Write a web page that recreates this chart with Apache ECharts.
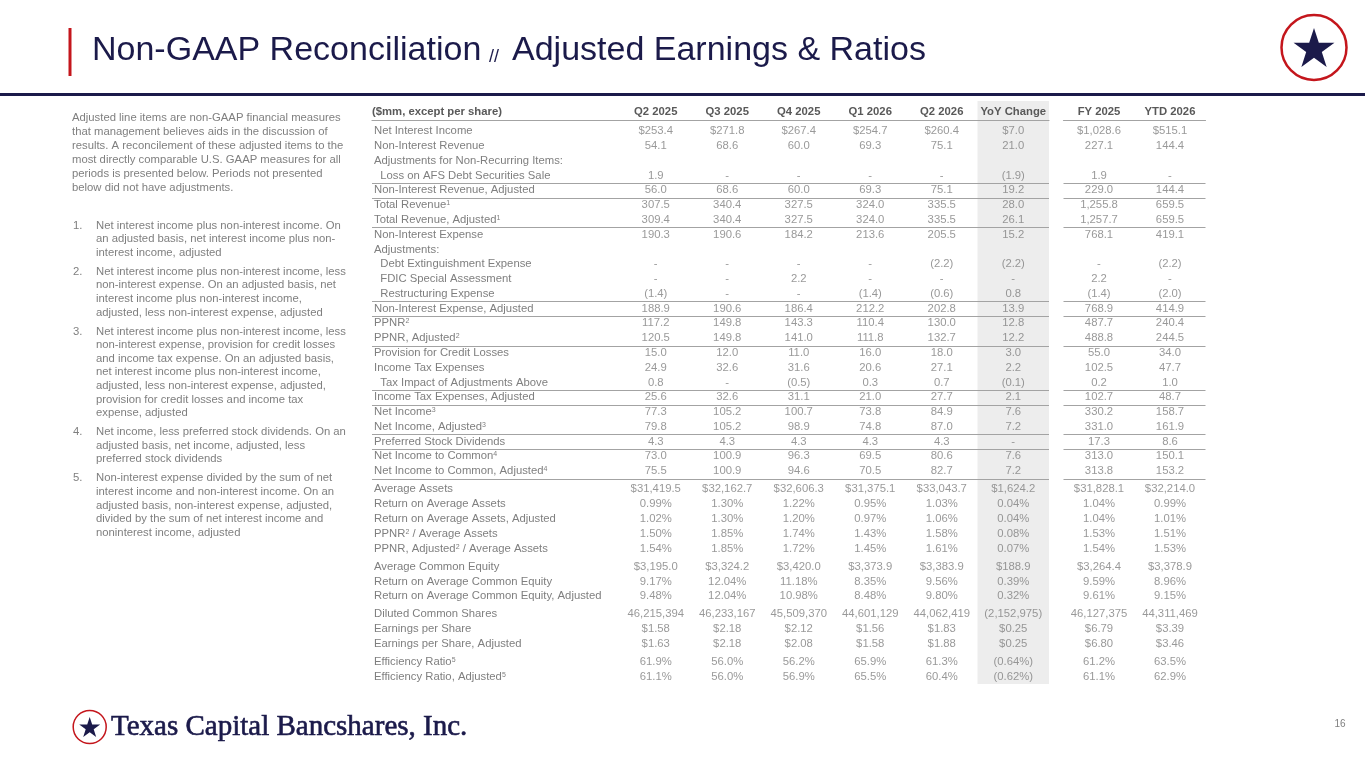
<!DOCTYPE html>
<html>
<head>
<meta charset="utf-8">
<title>Non-GAAP Reconciliation // Adjusted Earnings & Ratios</title>
<script src="https://cdn.jsdelivr.net/npm/echarts@6/dist/echarts.min.js"></script>
<style>
html,body{margin:0;padding:0;background:#fff;}
#main{width:1365px;height:768px;}
</style>
</head>
<body>
<div id="main"></div>
<script>
// column headers
var quarterCols = ['Q2 2025', 'Q3 2025', 'Q4 2025', 'Q1 2026', 'Q2 2026', 'YoY Change'];
var annualCols = ['FY 2025', 'YTD 2026'];

// row labels, ^n = footnote superscript, leading spaces = indent
var rowLabels = [
    'Net Interest Income', 'Non-Interest Revenue', 'Adjustments for Non-Recurring Items:',
    '  Loss on AFS Debt Securities Sale', 'Non-Interest Revenue, Adjusted', 'Total Revenue^1',
    'Total Revenue, Adjusted^1', 'Non-Interest Expense', 'Adjustments:',
    '  Debt Extinguishment Expense', '  FDIC Special Assessment', '  Restructuring Expense',
    'Non-Interest Expense, Adjusted', 'PPNR^2', 'PPNR, Adjusted^2', 'Provision for Credit Losses',
    'Income Tax Expenses', '  Tax Impact of Adjustments Above', 'Income Tax Expenses, Adjusted',
    'Net Income^3', 'Net Income, Adjusted^3', 'Preferred Stock Dividends',
    'Net Income to Common^4', 'Net Income to Common, Adjusted^4',
    'Average Assets', 'Return on Average Assets', 'Return on Average Assets, Adjusted',
    'PPNR^2 / Average Assets', 'PPNR, Adjusted^2 / Average Assets',
    'Average Common Equity', 'Return on Average Common Equity', 'Return on Average Common Equity, Adjusted',
    'Diluted Common Shares', 'Earnings per Share', 'Earnings per Share, Adjusted',
    'Efficiency Ratio^5', 'Efficiency Ratio, Adjusted^5'
];
var blockSizes = [24, 5, 3, 3, 2];

// rows with a rule under them
var ruleBelow = [
    '  Loss on AFS Debt Securities Sale', 'Non-Interest Revenue, Adjusted', 'Total Revenue, Adjusted^1',
    '  Restructuring Expense', 'Non-Interest Expense, Adjusted', 'PPNR, Adjusted^2',
    '  Tax Impact of Adjustments Above', 'Income Tax Expenses, Adjusted', 'Net Income, Adjusted^3',
    'Preferred Stock Dividends', 'Net Income to Common, Adjusted^4'
];

var q2_2025 = ['$253.4','54.1','','1.9','56.0','307.5','309.4','190.3','','-','-','(1.4)','188.9','117.2','120.5','15.0','24.9','0.8','25.6','77.3','79.8','4.3','73.0','75.5',
    '$31,419.5','0.99%','1.02%','1.50%','1.54%', '$3,195.0','9.17%','9.48%', '46,215,394','$1.58','$1.63', '61.9%','61.1%'];
var q3_2025 = ['$271.8','68.6','','-','68.6','340.4','340.4','190.6','','-','-','-','190.6','149.8','149.8','12.0','32.6','-','32.6','105.2','105.2','4.3','100.9','100.9',
    '$32,162.7','1.30%','1.30%','1.85%','1.85%', '$3,324.2','12.04%','12.04%', '46,233,167','$2.18','$2.18', '56.0%','56.0%'];
var q4_2025 = ['$267.4','60.0','','-','60.0','327.5','327.5','184.2','','-','2.2','-','186.4','143.3','141.0','11.0','31.6','(0.5)','31.1','100.7','98.9','4.3','96.3','94.6',
    '$32,606.3','1.22%','1.20%','1.74%','1.72%', '$3,420.0','11.18%','10.98%', '45,509,370','$2.12','$2.08', '56.2%','56.9%'];
var q1_2026 = ['$254.7','69.3','','-','69.3','324.0','324.0','213.6','','-','-','(1.4)','212.2','110.4','111.8','16.0','20.6','0.3','21.0','73.8','74.8','4.3','69.5','70.5',
    '$31,375.1','0.95%','0.97%','1.43%','1.45%', '$3,373.9','8.35%','8.48%', '44,601,129','$1.56','$1.58', '65.9%','65.5%'];
var q2_2026 = ['$260.4','75.1','','-','75.1','335.5','335.5','205.5','','(2.2)','-','(0.6)','202.8','130.0','132.7','18.0','27.1','0.7','27.7','84.9','87.0','4.3','80.6','82.7',
    '$33,043.7','1.03%','1.06%','1.58%','1.61%', '$3,383.9','9.56%','9.80%', '44,062,419','$1.83','$1.88', '61.3%','60.4%'];
var yoyChange = ['$7.0','21.0','','(1.9)','19.2','28.0','26.1','15.2','','(2.2)','-','0.8','13.9','12.8','12.2','3.0','2.2','(0.1)','2.1','7.6','7.2','-','7.6','7.2',
    '$1,624.2','0.04%','0.04%','0.08%','0.07%', '$188.9','0.39%','0.32%', '(2,152,975)','$0.25','$0.25', '(0.64%)','(0.62%)'];
var fy2025 = ['$1,028.6','227.1','','1.9','229.0','1,255.8','1,257.7','768.1','','-','2.2','(1.4)','768.9','487.7','488.8','55.0','102.5','0.2','102.7','330.2','331.0','17.3','313.0','313.8',
    '$31,828.1','1.04%','1.04%','1.53%','1.54%', '$3,264.4','9.59%','9.61%', '46,127,375','$6.79','$6.80', '61.2%','61.1%'];
var ytd2026 = ['$515.1','144.4','','-','144.4','659.5','659.5','419.1','','(2.2)','-','(2.0)','414.9','240.4','244.5','34.0','47.7','1.0','48.7','158.7','161.9','8.6','150.1','153.2',
    '$32,214.0','0.99%','1.01%','1.51%','1.53%', '$3,378.9','8.96%','9.15%', '44,311,469','$3.39','$3.46', '63.5%','62.9%'];

var introLines = [
    'Adjusted line items are non-GAAP financial measures',
    'that management believes aids in the discussion of',
    'results. A reconcilement of these adjusted items to the',
    'most directly comparable U.S. GAAP measures for all',
    'periods is presented below. Periods not presented',
    'below did not have adjustments.'
];
var footnotes = [
    ['Net interest income plus non-interest income. On', 'an adjusted basis, net interest income plus non-', 'interest income, adjusted'],
    ['Net interest income plus non-interest income, less', 'non-interest expense. On an adjusted basis, net', 'interest income plus non-interest income,', 'adjusted, less non-interest expense, adjusted'],
    ['Net interest income plus non-interest income, less', 'non-interest expense, provision for credit losses', 'and income tax expense. On an adjusted basis,', 'net interest income plus non-interest income,',
     'adjusted, less non-interest expense, adjusted,', 'provision for credit losses and income tax', 'expense, adjusted'],
    ['Net income, less preferred stock dividends. On an', 'adjusted basis, net income, adjusted, less', 'preferred stock dividends'],
    ['Non-interest expense divided by the sum of net', 'interest income and non-interest income. On an', 'adjusted basis, non-interest expense, adjusted,', 'divided by the sum of net interest income and', 'noninterest income, adjusted']
];

// look
var FONT = 'Liberation Sans';
var FS = 11.3;
var NAVY = '#1b1a4a';
var RED = '#c4161c';
var GREY = '#7f7f7f';
var HEAD = '#595959';
var RULE = '#a3a3a3';

// layout of the table (px)
var LAB_X = 372, LAB_W = 248;
var Q_X = 620, Q_W = 429;
var A_X = 1063.5, A_W = 142;
var blockTops = [123.8, 481.5, 559.9, 606.5, 654.5];
var blockRowH = [14.78, 15, 14.5, 15, 15];

function supify(v) {
    return v.replace(/\^(\d)/g, '{s|$1}');
}

function renderRule(params, api) {
    var pt = api.coord([0, api.value(1)]);
    var h = api.size([0, 1])[1];
    var cs = params.coordSys;
    var y = Math.round(pt[1] + h / 2) + 0.5;
    return {
        type: 'line',
        shape: {x1: cs.x, y1: y, x2: cs.x + cs.width, y2: y},
        style: {stroke: RULE, lineWidth: 1.2}
    };
}

var parts = [
    {key: 'lab', left: LAB_X, width: LAB_W, cols: ['($mm, except per share)']},
    {key: 'q', left: Q_X, width: Q_W, cols: quarterCols, values: [q2_2025, q3_2025, q4_2025, q1_2026, q2_2026, yoyChange]},
    {key: 'a', left: A_X, width: A_W, cols: annualCols, values: [fy2025, ytd2026]}
];

var grids = [], xAxes = [], yAxes = [], series = [];
var start = 0;
blockSizes.forEach(function (n, b) {
    var labels = rowLabels.slice(start, start + n);
    parts.forEach(function (p) {
        var gi = grids.length;
        grids.push({left: p.left, top: blockTops[b], width: p.width, height: n * blockRowH[b]});

        var xLabel = p.key === 'lab' ? {
            interval: 0, margin: 3, formatter: '{h|{value}}',
            rich: {h: {width: LAB_W, align: 'left', color: HEAD, fontWeight: 'bold', fontSize: FS, fontFamily: FONT}}
        } : {
            interval: 0, margin: 3, color: HEAD, fontWeight: 'bold', fontSize: FS, fontFamily: FONT
        };
        xAxes.push({
            type: 'category', gridIndex: gi, data: p.cols, position: 'top', offset: 3.5,
            show: b === 0,
            axisLine: {show: true, lineStyle: {color: RULE, width: 1.2}},
            axisTick: {show: false},
            splitLine: {show: false},
            axisLabel: xLabel
        });

        yAxes.push({
            type: 'category', gridIndex: gi, data: labels, inverse: true,
            axisLine: {show: false}, axisTick: {show: false}, splitLine: {show: false},
            axisLabel: p.key === 'lab' ? {
                inside: true, interval: 0, margin: 2, color: GREY, fontSize: FS, fontFamily: FONT,
                formatter: supify,
                rich: {s: {fontSize: 7, verticalAlign: 'top', color: GREY, fontFamily: FONT}}
            } : {show: false}
        });

        if (p.values) {
            var pts = [];
            p.values.forEach(function (col, c) {
                for (var i = 0; i < n; i++) {
                    var txt = col[start + i];
                    if (txt !== '') pts.push([c, i, txt]);
                }
            });
            series.push({
                type: 'scatter', xAxisIndex: gi, yAxisIndex: gi, data: pts,
                symbol: 'circle', symbolSize: 1, silent: true,
                itemStyle: {color: 'rgba(0,0,0,0)'},
                label: {
                    show: true, position: 'inside', color: GREY, fontSize: FS, fontFamily: FONT,
                    formatter: function (prm) { return prm.value[2]; }
                }
            });
        }

        var rules = [];
        labels.forEach(function (l, i) {
            if (ruleBelow.indexOf(l) >= 0) rules.push([0, i]);
        });
        if (rules.length) {
            series.push({
                type: 'custom', xAxisIndex: gi, yAxisIndex: gi, data: rules,
                renderItem: renderRule, silent: true
            });
        }
    });
    start += n;
});

// star shape for the logos
function starPoints(cx, cy, R) {
    var r = R * 0.382, pts = [];
    for (var k = 0; k < 10; k++) {
        var ang = -Math.PI / 2 + k * Math.PI / 5;
        var rad = k % 2 === 0 ? R : r;
        pts.push([cx + rad * Math.cos(ang), cy + rad * Math.sin(ang)]);
    }
    return pts;
}

var elements = [
    // YoY column shading
    {type: 'rect', z: -10, shape: {x: Q_X + 5 * Q_W / 6, y: 101, width: Q_W / 6, height: 583}, style: {fill: '#ededed'}},
    // title
    {type: 'rect', shape: {x: 68.5, y: 28, width: 3, height: 48}, style: {fill: RED}},
    {type: 'text', x: 92, y: 51, style: {text: 'Non-GAAP Reconciliation', fontSize: 34, fontFamily: FONT, fill: NAVY, verticalAlign: 'middle'}},
    {type: 'text', x: 489, y: 57, style: {text: '//', fontSize: 18, fontFamily: FONT, fill: NAVY, verticalAlign: 'middle'}},
    {type: 'text', x: 512, y: 51, style: {text: 'Adjusted Earnings & Ratios', fontSize: 34, fontFamily: FONT, fill: NAVY, verticalAlign: 'middle'}},
    {type: 'rect', shape: {x: 0, y: 93, width: 1365, height: 3}, style: {fill: NAVY}},
    // logo top right
    {type: 'circle', shape: {cx: 1314, cy: 47.5, r: 32.5}, style: {fill: '#fff', stroke: RED, lineWidth: 2.5}},
    {type: 'polygon', shape: {points: starPoints(1314, 49.5, 21.5)}, style: {fill: NAVY}},
    // footer
    {type: 'circle', shape: {cx: 89.7, cy: 727, r: 16.5}, style: {fill: '#fff', stroke: RED, lineWidth: 1.5}},
    {type: 'polygon', shape: {points: starPoints(89.7, 728, 11)}, style: {fill: NAVY}},
    {type: 'text', x: 111, y: 727, style: {text: 'Texas Capital Bancshares, Inc.', fontSize: 29, fontFamily: 'Liberation Serif', fill: NAVY, stroke: NAVY, lineWidth: 0.6, verticalAlign: 'middle'}},
    {type: 'text', x: 1340, y: 724, style: {text: '16', fontSize: 10, fontFamily: FONT, fill: GREY, align: 'center', verticalAlign: 'middle'}},
    // left notes
    {type: 'text', x: 72, y: 118 - 7, style: {text: introLines.join('\n'), fontSize: FS, fontFamily: FONT, fill: GREY, lineHeight: 14, verticalAlign: 'top'}}
];
var ny = 225.4;
footnotes.forEach(function (lines, k) {
    elements.push({type: 'text', x: 73, y: ny - 6.8, style: {text: (k + 1) + '.', fontSize: FS, fontFamily: FONT, fill: GREY, lineHeight: 13.6, verticalAlign: 'top'}});
    elements.push({type: 'text', x: 96, y: ny - 6.8, style: {text: lines.join('\n'), fontSize: FS, fontFamily: FONT, fill: GREY, lineHeight: 13.6, verticalAlign: 'top'}});
    ny += lines.length * 13.6 + 5.4;
});

var myChart = echarts.init(document.getElementById('main'));
myChart.setOption({
    animation: false,
    backgroundColor: '#fff',
    grid: grids,
    xAxis: xAxes,
    yAxis: yAxes,
    series: series,
    graphic: {elements: elements}
});
</script>
</body>
</html>
